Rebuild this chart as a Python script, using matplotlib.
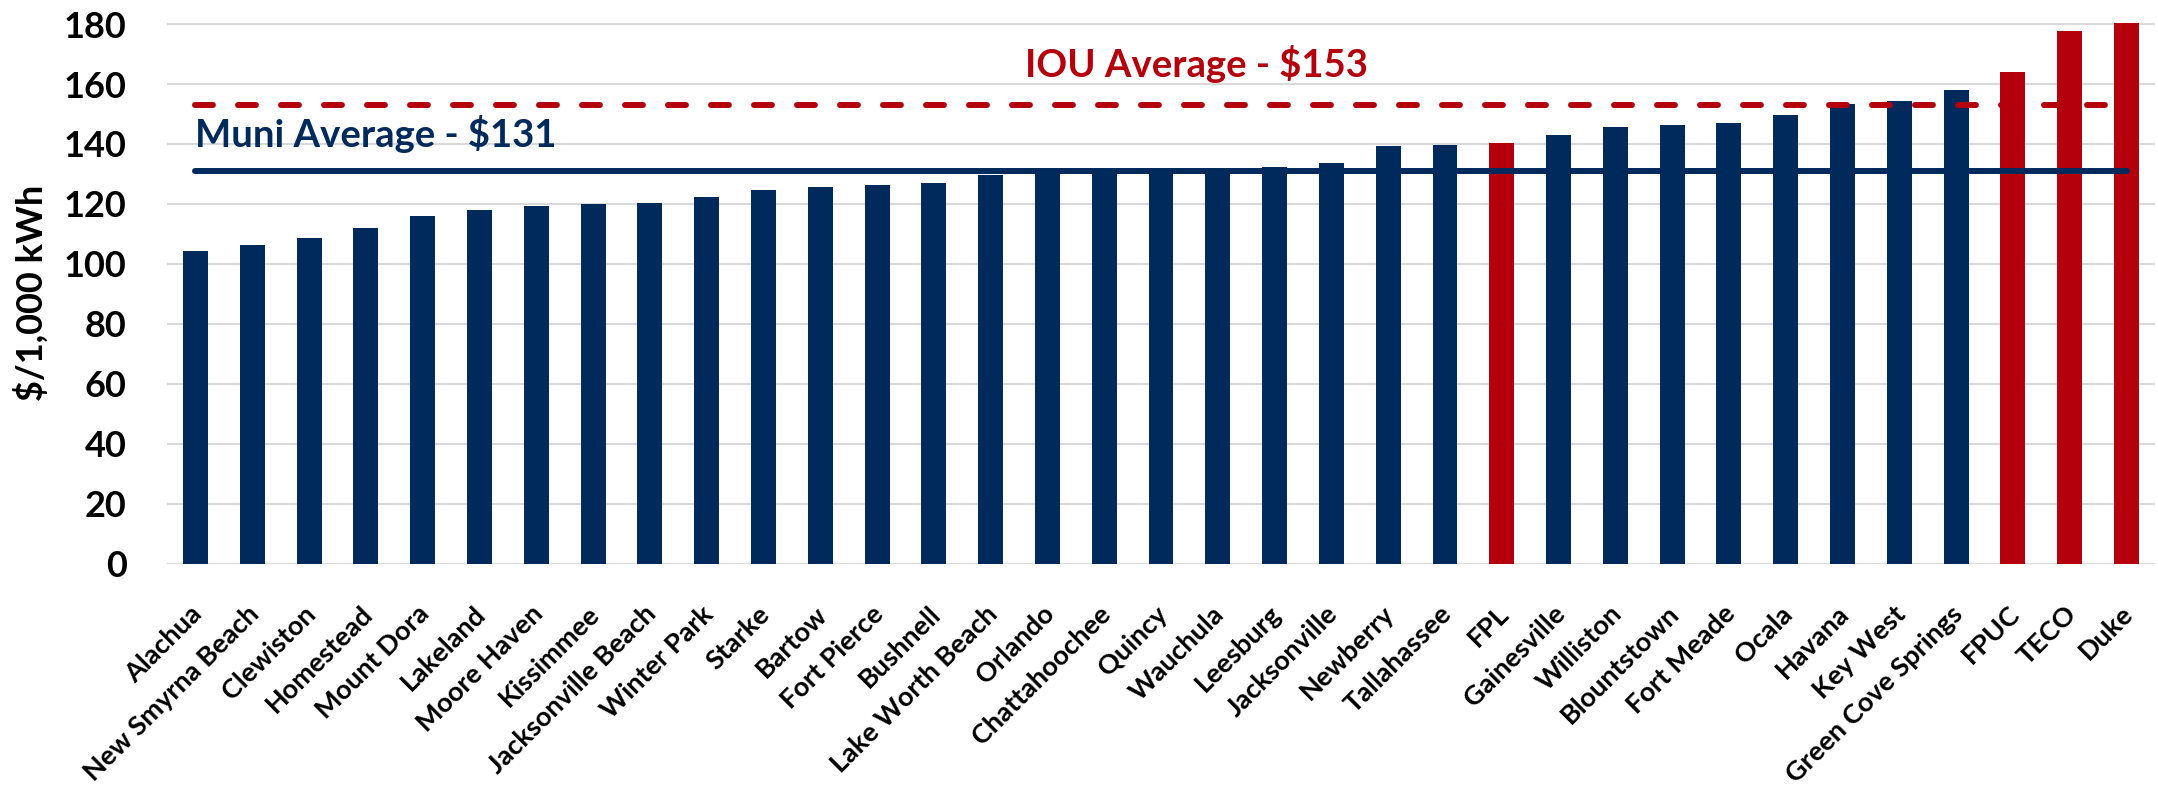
import matplotlib
matplotlib.use('Agg')
import matplotlib.pyplot as plt
import matplotlib.transforms as mtransforms

# font close to Calibri
plt.rcParams['font.family'] = ['Lato', 'DejaVu Sans']
plt.rcParams['font.weight'] = 'bold'

# data
utilities = ['Alachua', 'New Smyrna Beach', 'Clewiston', 'Homestead', 'Mount Dora',
             'Lakeland', 'Moore Haven', 'Kissimmee', 'Jacksonville Beach', 'Winter Park',
             'Starke', 'Bartow', 'Fort Pierce', 'Bushnell', 'Lake Worth Beach',
             'Orlando', 'Chattahoochee', 'Quincy', 'Wauchula', 'Leesburg',
             'Jacksonville', 'Newberry', 'Tallahassee', 'FPL', 'Gainesville',
             'Williston', 'Blountstown', 'Fort Meade', 'Ocala', 'Havana',
             'Key West', 'Green Cove Springs', 'FPUC', 'TECO', 'Duke']
cost = [104.3, 106.3, 108.7, 112.0, 116.0,
        118.0, 119.3, 119.9, 120.3, 122.3,
        124.7, 125.6, 126.3, 127.0, 129.7,
        131.0, 131.1, 131.2, 131.5, 132.3,
        133.7, 139.3, 139.7, 140.3, 142.9,
        145.7, 146.3, 147.0, 149.8, 153.3,
        154.3, 158.0, 164.0, 177.7, 180.3]
iou_names = ['FPL', 'FPUC', 'TECO', 'Duke']
muni_avg = 131
iou_avg = 153
yticks = [0, 20, 40, 60, 80, 100, 120, 140, 160, 180]

NAVY = '#002A5C'
RED = '#B3000C'

fig = plt.figure(figsize=(21.58, 7.87), dpi=100)
ax_rect = [0.0774, 0.2834, 0.9212, 0.6880]
ax = fig.add_axes(ax_rect)

x = list(range(len(utilities)))
colors = [RED if u in iou_names else NAVY for u in utilities]
ax.bar(x, cost, width=0.44, color=colors, zorder=2, clip_on=False)

# average lines
ax.plot([x[0], x[-1]], [muni_avg, muni_avg], color=NAVY, lw=4.3,
        solid_capstyle='round', zorder=3)
ax.plot([x[0], x[-1]], [iou_avg, iou_avg], color=RED, lw=4.3,
        linestyle=(0, (3.0, 4.2)), dash_capstyle='round', zorder=3)
ax.text(x[0], 139.1, f'Muni Average - ${muni_avg}', color=NAVY, fontsize=27.5,
        fontweight='bold', ha='left', va='baseline')
ax.text(14.6, 162.3, f'IOU Average - ${iou_avg}', color=RED, fontsize=27.5,
        fontweight='bold', ha='left', va='baseline')

# axes styling
ax.set_xlim(-0.5, len(utilities) - 0.5)
ax.set_ylim(0, 180.5)
ax.set_yticks(yticks)
ax.set_yticklabels([str(v) for v in yticks], fontsize=26, fontweight='bold')
ax.tick_params(axis='y', length=0, pad=29)
ax.set_xticks(x)
ax.set_xticklabels(utilities, rotation=45, ha='right', va='top',
                   rotation_mode='anchor', fontsize=19.5, fontweight='bold')
ax.tick_params(axis='x', length=0, pad=27)
shift = mtransforms.ScaledTranslation(-6 / 100, 0, fig.dpi_scale_trans)
for lbl in ax.get_xticklabels():
    lbl.set_transform(lbl.get_transform() + shift)

ax.yaxis.grid(True, color='#D9D9D9', lw=1.5)
ax.set_axisbelow(True)
for s in ax.spines.values():
    s.set_visible(False)

# y axis title
fig.text(31 / 2158, ax_rect[1] + ax_rect[3] / 2, '$/1,000 kWh', rotation=90,
         ha='center', va='center', fontsize=26, fontweight='bold')

fig.savefig('out.png', dpi=100)
